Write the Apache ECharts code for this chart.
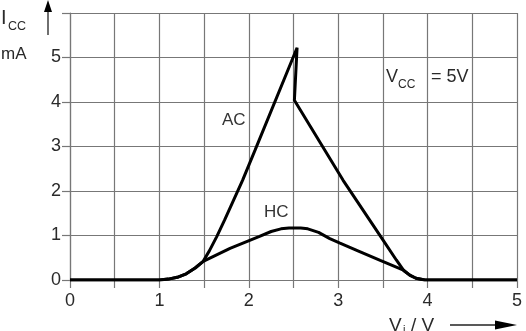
<!DOCTYPE html>
<html>
<head>
<meta charset="utf-8">
<script src="https://cdn.jsdelivr.net/npm/echarts@6/dist/echarts.min.js"></script>
<style>
html,body{margin:0;padding:0;background:#fff;}
#c{width:526px;height:331px;}
</style>
</head>
<body>
<div id="c"></div>
<script>
// Data (x = Vi in V, y = Icc in mA)
var xTicks = [0, 1, 2, 3, 4, 5];
var yTicks = [0, 1, 2, 3, 4, 5];
var acCurve = [
  [0, 0], [1.0, 0], [1.1, 0.02], [1.2, 0.06], [1.3, 0.14], [1.4, 0.27], [1.49, 0.42],
  [1.56, 0.66], [1.64, 0.97], [1.73, 1.35], [1.93, 2.24], [2.07, 2.92], [2.54, 5.22],
  [2.51, 4.04], [3.055, 2.24], [3.5, 0.9], [3.65, 0.45], [3.73, 0.22], [3.8, 0.11],
  [3.87, 0.04], [3.97, 0], [5, 0]
];
var hcCurve = [
  [0, 0], [1.0, 0], [1.1, 0.02], [1.2, 0.06], [1.3, 0.14], [1.4, 0.27], [1.49, 0.42],
  [1.79, 0.71], [2.12, 0.98], [2.25, 1.09], [2.36, 1.15], [2.45, 1.17], [2.58, 1.17],
  [2.66, 1.15], [2.78, 1.07], [2.906, 0.93], [3.02, 0.83], [3.24, 0.64], [3.47, 0.44],
  [3.73, 0.22], [3.8, 0.11], [3.87, 0.04], [3.97, 0], [5, 0]
];
var curveLabels = ['AC', 'HC'];

var chart = echarts.init(document.getElementById('c'), null, {renderer: 'canvas'});
var FONT = 'Liberation Sans, Arial, sans-serif';
var gridColor = '#777';
var txt = '#2a2a2a';

chart.setOption({
  animation: false,
  backgroundColor: '#fff',
  grid: {left: 70, right: 9, top: 13, bottom: 51},
  xAxis: {
    type: 'value', min: 0, max: 5, interval: 0.5,
    axisLine: {show: true, lineStyle: {color: gridColor, width: 1.2}},
    axisTick: {show: true, length: 8, lineStyle: {color: gridColor, width: 1.2}},
    splitLine: {show: true, lineStyle: {color: gridColor, width: 1.2}},
    axisLabel: {
      margin: 12, color: txt, fontSize: 18, fontFamily: FONT,
      formatter: function (v) { return xTicks.indexOf(v) >= 0 ? String(v) : ''; }
    }
  },
  yAxis: {
    type: 'value', min: 0, max: 6, interval: 1,
    axisLine: {show: true, lineStyle: {color: gridColor, width: 1.2}},
    axisTick: {show: true, length: 8, lineStyle: {color: gridColor, width: 1.2}},
    splitLine: {show: true, lineStyle: {color: gridColor, width: 1.2}},
    axisLabel: {
      margin: 9, color: txt, fontSize: 18, fontFamily: FONT,
      formatter: function (v) { return yTicks.indexOf(v) >= 0 ? String(v) : ''; }
    }
  },
  series: [
    {type: 'line', name: curveLabels[0], data: acCurve, showSymbol: false, smooth: false,
     lineStyle: {color: '#000', width: 3}, z: 3},
    {type: 'line', name: curveLabels[1], data: hcCurve, showSymbol: false, smooth: false,
     lineStyle: {color: '#000', width: 3}, z: 3}
  ],
  graphic: [
    // y-axis title Icc / mA
    {type: 'text', left: 1, top: 8, style: {text: 'I', font: '20px ' + FONT, fill: txt}},
    {type: 'text', left: 8, top: 20, style: {text: 'CC', font: '12.5px ' + FONT, fill: txt}},
    {type: 'text', left: 1, top: 46, style: {text: 'mA', font: '17px ' + FONT, fill: txt}},
    {type: 'line', shape: {x1: 48, y1: 35, x2: 48, y2: 10}, style: {stroke: '#222', lineWidth: 1.3}},
    {type: 'polygon', shape: {points: [[48, 0], [44, 12], [52, 12]]}, style: {fill: '#000'}},
    // x-axis title Vi / V
    {type: 'text', left: 389, top: 316, style: {text: 'V', font: '19px ' + FONT, fill: txt}},
    {type: 'text', left: 403, top: 324, style: {text: 'i', font: '11px ' + FONT, fill: txt}},
    {type: 'text', left: 411, top: 316, style: {text: '/ V', font: '19px ' + FONT, fill: txt}},
    {type: 'line', shape: {x1: 450, y1: 325, x2: 500, y2: 325}, style: {stroke: '#222', lineWidth: 1.3}},
    {type: 'polygon', shape: {points: [[517, 325], [495, 320.5], [495, 329.5]]}, style: {fill: '#000'}},
    // Vcc = 5V annotation
    {type: 'text', left: 386, top: 68, style: {text: 'V', font: '18px ' + FONT, fill: txt}},
    {type: 'text', left: 398, top: 79, style: {text: 'CC', font: '12px ' + FONT, fill: txt}},
    {type: 'text', left: 431, top: 68, style: {text: '= 5V', font: '18px ' + FONT, fill: txt}},
    // curve labels
    {type: 'text', left: 222, top: 112, style: {text: curveLabels[0], font: '17px ' + FONT, fill: '#333'}},
    {type: 'text', left: 264, top: 204, style: {text: curveLabels[1], font: '17px ' + FONT, fill: '#333'}}
  ]
});
</script>
</body>
</html>
